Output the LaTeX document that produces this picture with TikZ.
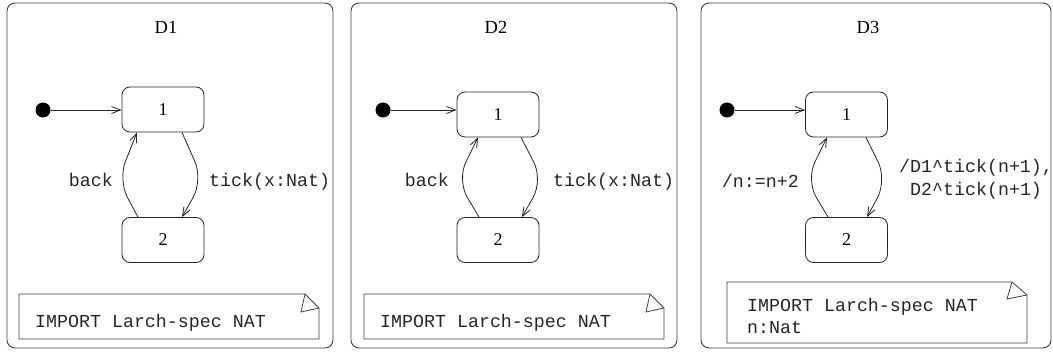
\documentclass[tikz,border=0pt]{standalone}
\usepackage{fontspec}
\setmainfont{Liberation Serif}
\setmonofont{Liberation Mono}
\usetikzlibrary{arrows.meta}
\tikzset{
  panel/.style={draw=black!75, line width=0.9pt, rounded corners=8pt, inner sep=0pt},
  statebox/.style={draw=black!85, line width=0.8pt, rounded corners=8pt, minimum width=82pt, minimum height=45pt, inner sep=0pt, font=\fontsize{18}{20}\selectfont},
  titletext/.style={font=\fontsize{18.5}{20}\selectfont, inner sep=0pt, anchor=base},
  lbl/.style={font=\fontsize{18.3}{23}\selectfont\ttfamily, text=black!85, inner sep=0pt},
  initdot/.style={circle, fill=black, minimum size=15pt, inner sep=0pt},
  initarr/.style={draw=black!85, line width=0.8pt, -{Straight Barb[length=9pt,width=7pt]}},
  trans/.style={draw=black!85, line width=0.8pt, -{Straight Barb[length=9pt,width=7pt]}, rounded corners=20pt},
  notebox/.style={draw=black!75, line width=0.8pt, line join=miter}
}
\newcommand{\stlabel}[1]{\raisebox{-3.5pt}{#1}}
\begin{document}
\begin{tikzpicture}[x=1pt,y=-1pt]
\useasboundingbox (0,0) rectangle (1053,358);
\fill[white] (0,0) rectangle (1053,358);

% ---------- D1 ----------
\draw[panel] (7,3) rectangle (333,348);
\node[titletext] (d1t) at (166,33.5) {D1};
\node[statebox] (a1) at (163,109.5) {\stlabel{1}};
\node[statebox] (a2) at (163,240) {\stlabel{2}};
\node[initdot] (i1) at (43,110) {};
\draw[initarr] (i1) -- (a1.west |- i1);
\coordinate (t1) at (203,180);
\coordinate (b1) at (118,180);
\draw[trans] ([xshift=19pt]a1.south) -- (t1) -- ([xshift=19pt]a2.north);
\draw[trans] ([xshift=-25pt]a2.north) -- (b1) -- ([xshift=-26pt]a1.south);
\node[lbl, anchor=base east] (l1b) at (113,187) {back};
\node[lbl, anchor=base west] (l1t) at (209,187) {tick(x:Nat)};
\draw[notebox] (19,294) -- (305,294) -- (319,308) -- (319,339) -- (19,339) -- cycle;
\draw[notebox] (305,294) -- (301,312) -- (319,308);
\node[lbl, anchor=base west] (n1) at (35,327) {IMPORT Larch-spec NAT};

% ---------- D2 ----------
\draw[panel] (351,3) rectangle (677,348);
\node[titletext] (d2t) at (496,33.5) {D2};
\node[statebox] (c1) at (498,114.5) {\stlabel{1}};
\node[statebox] (c2) at (498,240) {\stlabel{2}};
\node[initdot] (i2) at (383,110) {};
\draw[initarr] (i2) -- (c1.west |- i2);
\coordinate (t2) at (543,180);
\coordinate (b2) at (457,180);
\draw[trans] ([xshift=23pt]c1.south) -- (t2) -- ([xshift=24pt]c2.north);
\draw[trans] ([xshift=-19pt]c2.north) -- (b2) -- ([xshift=-20pt]c1.south);
\node[lbl, anchor=base east] (l2b) at (449,187) {back};
\node[lbl, anchor=base west] (l2t) at (553,187) {tick(x:Nat)};
\draw[notebox] (364,294) -- (650,294) -- (664,308) -- (664,339) -- (364,339) -- cycle;
\draw[notebox] (650,294) -- (646,312) -- (664,308);
\node[lbl, anchor=base west] (n2) at (380,327) {IMPORT Larch-spec NAT};

% ---------- D3 ----------
\draw[panel] (701,3) rectangle (1051,348);
\node[titletext] (d3t) at (868,33.5) {D3};
\node[statebox] (e1) at (846.5,114.5) {\stlabel{1}};
\node[statebox] (e2) at (846.5,240) {\stlabel{2}};
\node[initdot] (i3) at (727,110) {};
\draw[initarr] (i3) -- (e1.west |- i3);
\coordinate (t3) at (887,180);
\coordinate (b3) at (806,180);
\draw[trans] ([xshift=19.5pt]e1.south) -- (t3) -- ([xshift=20.5pt]e2.north);
\draw[trans] ([xshift=-18.5pt]e2.north) -- (b3) -- ([xshift=-19.5pt]e1.south);
\node[lbl, anchor=base east] (l3b) at (799,188) {/n:=n+2};
\node[lbl, anchor=base west] (l3t1) at (899,173) {/D1\textasciicircum tick(n+1),};
\node[lbl, anchor=base west] (l3t2) at (910,196) {D2\textasciicircum tick(n+1)};
\draw[notebox] (727,282) -- (1012,282) -- (1027,295) -- (1027,343) -- (727,343) -- cycle;
\draw[notebox] (1012,282) -- (1007,299) -- (1027,295);
\node[lbl, anchor=base west] (n3a) at (747,312) {IMPORT Larch-spec NAT};
\node[lbl, anchor=base west] (n3b) at (747,334) {n:Nat};
\end{tikzpicture}
\end{document}
